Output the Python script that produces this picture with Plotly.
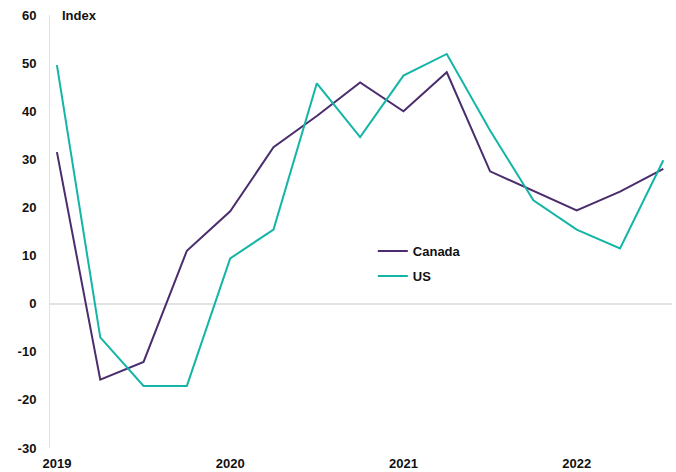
import plotly.graph_objects as go

quarters = list(range(15))
year_ticks = [0, 4, 8, 12]
year_labels = ["2019", "2020", "2021", "2022"]
canada = [31.5, -15.8, -12.1, 11, 19.2, 32.5, 39, 46, 40, 48.1, 27.5, 23.5, 19.4, 23.3, 28]
us = [49.6, -7, -17.1, -17.1, 9.4, 15.4, 45.8, 34.6, 47.4, 51.9, 36, 21.5, 15.4, 11.5, 29.8]

fam = "Liberation Sans, Arial, sans-serif"
font = dict(family=fam, size=13, color="#111111")

fig = go.Figure()
fig.add_trace(go.Scatter(x=quarters, y=canada, mode="lines", name="<b>Canada</b>",
                         legendgroup="a", line=dict(color="#4B2D6E", width=2)))
fig.add_trace(go.Scatter(x=quarters, y=us, mode="lines", name="<b>US</b>",
                         legendgroup="b", line=dict(color="#13B5A7", width=2)))

fig.update_layout(
    width=676, height=472,
    margin=dict(l=50, r=4, t=15, b=24),
    plot_bgcolor="white", paper_bgcolor="white",
    font=font,
    showlegend=True,
    legend=dict(x=0.519, y=0.426, xanchor="left", yanchor="middle",
                bgcolor="rgba(0,0,0,0)", font=dict(size=13, family=fam, color="#111111"),
                itemwidth=30, tracegroupgap=5),
    xaxis=dict(range=[-0.16, 14.2], tickvals=year_ticks,
               ticktext=["<b>%s</b>" % t for t in year_labels],
               showgrid=False, zeroline=False, showline=False, ticks="",
               ticklabelstandoff=6, automargin=False),
    yaxis=dict(range=[-30, 60], showgrid=False,
               tickvals=list(range(-30, 61, 10)),
               ticktext=["<b>%d</b>" % v for v in range(-30, 61, 10)],
               zeroline=True, zerolinecolor="#E3E3E3", zerolinewidth=1.5,
               showline=True, linecolor="#E3E3E3", linewidth=1, ticks="",
               ticklabelstandoff=10, automargin=False),
    annotations=[dict(text="<b>Index</b>", x=0, y=60, xref="paper", yref="y",
                      xanchor="left", yanchor="middle", xshift=10, showarrow=False,
                      font=dict(size=13, family=fam, color="#111111"))],
)

fig.write_html("out.html", config={"displayModeBar": False},
               post_script="document.body.style.margin='0';")
